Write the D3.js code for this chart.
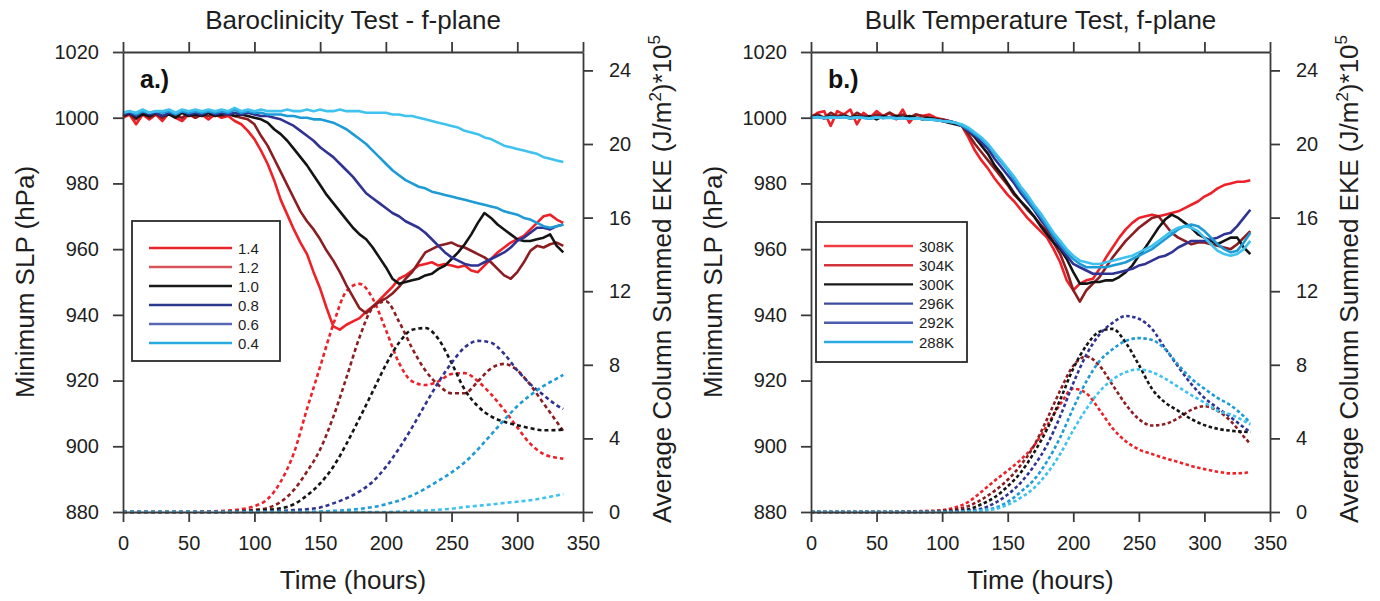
<!DOCTYPE html>
<html>
<head>
<meta charset="utf-8">
<script src="https://cdn.jsdelivr.net/npm/d3@7"></script>
<style>
html,body{margin:0;padding:0;background:#fff;}
svg{display:block;font-family:"Liberation Sans",Arial,Helvetica,sans-serif;}
</style>
</head>
<body>
<svg id="chart" width="1380" height="601"></svg>
<script>
// ---------------- DATA ----------------
const timeSolid = [0,5,10,15,20,25,30,35,40,45,50,55,60,65,70,75,80,85,90,95,100,105,110,115,120,125,130,135,140,145,150,155,160,165,170,175,180,185,190,195,200,205,210,215,220,225,230,235,240,245,250,255,260,265,270,275,280,285,290,295,300,305,310,315,320,325,330,335];
const timeDashed = [0,10,20,30,40,50,60,70,80,90,100,110,120,130,140,150,160,170,180,190,200,210,220,230,240,250,260,270,280,290,300,310,320,330,335];

// Panel a: Baroclinicity test, minimum SLP (hPa)
const slpA_14 = [1000,1001,998,1001,999.5,1001,999,1001.5,1000,999,1001,1000,1001,999.5,1001,1000,1000.5,999,998,996,993.5,990,986,981,975,970.5,966,962,958.5,953,948,942,936.5,935.5,937,938,939,941,942.5,944.5,946.5,948.5,951,952,953.5,955,955.5,956,955,955.5,955,954.5,955,953.5,953,955,957,959,960.5,962,963,964,966,968,970,970.5,969,968];
const slpA_12 = [1000.5,1001,999.5,1001.5,1000,1001,1000,1001.5,1000.5,1000,1001.5,1000,1001,1000.5,1001.5,1000.5,1001,1000.5,1000,999.5,998,994.5,991.5,987.5,983.5,979.5,975.5,971.5,968.5,966,963,959.5,956.5,953,949,945.5,942,940.5,942.5,944,945,946.5,948.5,951,953,956,959,960,961,961.5,962,961,960.5,959.5,958.5,957.5,956,954,952,951,953,956,959.5,961,960.5,961.5,962,961];
const slpA_10 = [1000.5,1001.5,1000,1001,1000.5,1001.5,1000.5,1001,1000,1001.5,1000.5,1001,1000.5,1001.5,1000.5,1001,1001.5,1000.5,1001,1000.5,1000,999.5,998.5,996.5,995,993,990.5,988,985.5,982.5,979.5,976.5,974,971.5,969,966.5,964.5,963,960.5,957.5,954.5,951,949.5,950,950.5,951,952,952.5,954,955,957,959,961.5,964.5,968,971,969.5,967.5,966,964.5,963,962.5,962.5,963,963.5,964.5,961,959];
const slpA_08 = [1001,1001.5,1000.5,1002,1001,1001.5,1000.5,1001.5,1001,1002,1001,1001.5,1001,1002,1001,1001.5,1001,1001.5,1001,1001.5,1001,1000.5,1000.5,1000,999.5,998.5,997.5,996,994.5,993,991,989.5,988,986,984,982,979.5,977,975.5,974,972.5,971,970,968.5,967.5,966.5,965,963,961,959,957.5,956.5,955.5,955,955,956,957,958,959,960.5,962.5,963.5,965,966.5,966.5,966,967,967.5];
const slpA_06 = [1001.5,1002,1001,1002,1001.5,1002,1001.5,1002,1001,1002,1001.5,1002,1001.5,1002,1001.5,1002,1001.5,1002.5,1001.5,1002,1001.5,1001.5,1001,1001,1001,1000.5,1000.5,1000,1000,999.5,999.5,999,998.5,997.5,996.5,995,993.5,992,990,988,986,984,982.5,981,980,979,978.5,977.5,977,976.5,976,975.5,975,974.5,974,973.5,973,972.5,971.5,971,970.5,969.5,969,968,967,966.5,967,967.5];
const slpA_04 = [1001.5,1002,1001.5,1002.5,1001.5,1002,1002,1002.5,1001.5,1002.5,1002,1002.5,1002,1002.5,1002,1002.5,1002,1003,1002,1002.5,1002,1002.5,1002,1002,1002,1002.5,1002,1002,1002.5,1002,1002.5,1002,1002,1002.5,1002,1002,1002,1001.5,1001.5,1001.5,1001.5,1001,1001,1000.5,1000.5,1000,999.5,999,998.5,998,997.5,997,996,995.5,995,994,993.5,992.5,991.5,991,990.5,990,989.5,989,988,987.5,987,986.5];

// Panel a: average column summed EKE (J/m^2 x 1e5)
const ekeA_14 = [0,0,0,0,0,0,0.02,0.04,0.08,0.15,0.32,0.7,1.65,3.2,5.6,7.9,10.2,12.0,12.4,11.6,9.9,8.1,7.1,6.9,7.1,7.5,7.55,7.1,6.4,5.55,4.6,3.7,3.15,2.95,2.9];
const ekeA_12 = [0,0,0,0,0,0,0,0,0.03,0.06,0.12,0.22,0.55,1.2,2.2,3.4,5.17,7.3,9.5,11.1,11.45,10.35,8.9,7.7,6.9,6.45,6.45,7.1,7.8,8.05,7.7,6.9,5.9,4.9,4.4];
const ekeA_10 = [0,0,0,0,0,0,0,0,0,0.03,0.07,0.12,0.2,0.42,0.9,1.55,2.46,3.7,5.1,6.55,8.0,9.2,9.9,10.0,9.4,8.1,6.65,5.75,5.2,4.9,4.72,4.55,4.44,4.45,4.5];
const ekeA_08 = [0,0,0,0,0,0,0,0,0,0,0,0.03,0.06,0.1,0.15,0.25,0.47,0.75,1.12,1.65,2.45,3.45,4.6,5.85,7.05,8.1,8.95,9.3,9.2,8.6,7.7,6.95,6.35,5.8,5.6];
const ekeA_06 = [0,0,0,0,0,0,0,0,0,0,0,0,0,0,0,0.03,0.06,0.1,0.17,0.27,0.42,0.63,0.9,1.27,1.7,2.15,2.7,3.4,4.2,5.0,5.75,6.35,6.85,7.25,7.45];
const ekeA_04 = [0,0,0,0,0,0,0,0,0,0,0,0,0,0,0,0,0,0,0,0,0,0.02,0.05,0.08,0.12,0.18,0.27,0.34,0.41,0.49,0.56,0.64,0.76,0.9,0.97];

// Panel b: Bulk temperature test, minimum SLP (hPa)
const slpB_308 = [1000,1001.5,1002,997.5,1002,1001,1002.5,998,1001.5,1000,1002,1000.5,1001.5,999.5,1002.5,998.5,1001,1000.5,1001,1000,999.5,999,998.5,997.5,994,990,987,984.5,981.5,979,976.5,974.5,972,969.5,967.5,965.5,963.5,960,956,950.5,947.5,949.5,950.5,951,954,957.5,960.5,963.5,966,968,969.5,970,970.5,970,970.5,971,971.5,972.5,973.5,974.5,976,977,978.5,979.5,980,980.5,980.5,981];
const slpB_304 = [1000.5,1001,1000,1001.5,1000.5,1001,1000,1001.5,1000.5,1000,1001,1000.5,1001.5,1000.5,1001,1000,1001,1000.5,1000,999.5,999.5,999,998.5,997.5,995,992,989.5,987,984.5,982,979.5,976.5,974.5,972,970,967.5,965.5,962,958.5,953.5,947.5,944,947.5,949.5,951.5,954.5,957.5,960,962.5,964.5,966.5,968,969.5,970,967.5,965,963.5,962.5,961.5,962,962,961.5,961,960.5,960,961.5,963.5,965.5];
const slpB_300 = [1000,1000.5,1000,1000.5,1000,1000.5,1000,1000.5,1000,1000.5,999.5,1000.5,1000,1000.5,1000,1000.5,1000,999.5,1000,999.5,999,998.5,998,997.5,996,994,991.5,989,985.5,983,980,977,974.5,972.5,970,967,964.5,962,960,957,953,949.5,949.5,950,950,950.5,950.5,951.5,953,955,958,960.5,963.5,966.5,969,970.5,969.5,968,966.5,964.5,963.5,962.5,961.5,962.5,963.5,963.5,960.5,958.5];
const slpB_296 = [1000,1000.3,999.8,1000.2,1000,1000.3,999.8,1000.2,1000,999.8,1000.2,999.9,1000.2,999.8,1000,999.7,999.9,999.6,999.5,999.3,999,999,998.5,997.5,996,994.5,992.5,990.5,987.5,985,982.5,980,977,974.5,972,969,966.5,963.5,960.5,958,955.5,954.5,953.5,952.5,952.5,952.5,952.5,953,953.5,954,955,955.5,956.5,957.5,958,959,960.5,961.5,962.5,962.5,962.5,963,963.5,964.5,965,967,969.5,972];
const slpB_292 = [1000,1000.2,999.9,1000.2,1000,1000.2,999.8,1000.1,1000,999.8,1000.1,999.9,1000.1,999.8,999.9,999.7,999.8,999.6,999.5,999.3,999,998.8,998.5,997.5,996.5,995,993.5,991.5,989,986.5,984,981,978,975.5,972.5,970,967,964,961.5,959,957,955.5,954.5,954.5,954.5,954.5,955,955.5,956,957,958,959,960,961.5,963,964.5,966,967,967.5,967,965.5,963.5,961.5,960,959,959.5,962,965];
const slpB_288 = [1000,1000.2,999.9,1000.1,1000,1000.2,999.9,1000.1,999.9,999.8,1000.1,999.9,1000,999.8,999.9,999.7,999.8,999.6,999.5,999.3,999,998.8,998.5,998,997,995.5,994,992,989.5,987,984.5,982,979,976.5,973.5,971,968,965,962.5,960,958,956.5,956,955.5,955.5,956,956.5,957,957.5,958,959,960,961,962.5,964,965.5,966.5,967,966.5,965.5,963.5,961.5,959.5,958.5,958,958.5,960,962.5];

// Panel b: average column summed EKE (J/m^2 x 1e5)
const ekeB_308 = [0,0,0,0,0,0,0,0.02,0.04,0.06,0.1,0.25,0.55,1.1,1.7,2.25,2.85,3.6,4.7,5.85,6.7,6.45,5.55,4.55,3.85,3.4,3.15,2.92,2.72,2.5,2.33,2.19,2.1,2.12,2.2];
const ekeB_304 = [0,0,0,0,0,0,0,0,0,0.03,0.07,0.15,0.32,0.68,1.15,1.75,2.55,3.6,5.05,6.6,7.95,8.45,7.95,6.9,5.85,5.05,4.7,4.78,5.1,5.55,5.75,5.5,4.95,4.1,3.7];
const ekeB_300 = [0,0,0,0,0,0,0,0,0,0,0.03,0.06,0.15,0.42,0.8,1.4,2.15,3.22,4.5,6.1,7.8,9.05,9.8,9.95,9.2,8.0,6.7,5.95,5.5,5.05,4.72,4.52,4.42,4.36,4.35];
const ekeB_296 = [0,0,0,0,0,0,0,0,0,0,0,0.03,0.08,0.18,0.48,0.95,1.6,2.5,3.65,5.2,7.0,8.55,9.65,10.28,10.65,10.5,9.95,8.9,7.9,6.95,6.2,5.65,5.15,4.6,4.35];
const ekeB_292 = [0,0,0,0,0,0,0,0,0,0,0,0,0.04,0.1,0.22,0.55,1.1,1.75,2.75,4.05,5.65,7.1,8.2,8.85,9.3,9.45,9.35,8.85,8.0,7.25,6.7,6.2,5.8,5.2,4.85];
const ekeB_288 = [0,0,0,0,0,0,0,0,0,0,0,0,0.03,0.07,0.15,0.4,0.78,1.3,2.1,3.15,4.45,5.6,6.55,7.2,7.6,7.75,7.6,7.25,6.8,6.35,5.95,5.5,5.3,4.95,4.75];

const labelsA = ["1.4","1.2","1.0","0.8","0.6","0.4"];
const labelsB = ["308K","304K","300K","296K","292K","288K"];
const lineColors = ["#ee2128","#8c1d20","#141414","#2f3393","#1d9bd7","#40c2ef"];
const legendColorsA = ["#e8262a","#d6555a","#1a1a1a","#2c3a8d","#5767b4","#28aae1"];
const legendColorsB = ["#ee3c42","#d2343b","#1a1a1a","#3c4b9c","#4b5daf","#2aaae1"];

const xTicks = [0,50,100,150,200,250,300,350];
const slpTicks = [880,900,920,940,960,980,1000,1020];
const ekeTicks = [0,4,8,12,16,20,24];

const titles = ["Baroclinicity Test - f-plane","Bulk Temperature Test, f-plane"];
const panelTags = ["a.)","b.)"];

// ---------------- DRAWING ----------------
const svg = d3.select("#chart");
const FONT = '"Liberation Sans",Arial,Helvetica,sans-serif';
const AX = "#3a3a3a";
const TXT = "#1e1e1e";

function panel(cfg){
  const {left,right,top,bottom} = cfg;
  const x = d3.scaleLinear().domain([0,350]).range([left,right]);
  const yL = d3.scaleLinear().domain([880,1020]).range([bottom,top]);
  const yR = d3.scaleLinear().domain([0,25]).range([bottom,top]);
  const g = svg.append("g");

  // dashed EKE lines
  const dl = d3.line().x((d,i)=>x(timeDashed[i])).y(d=>yR(d)).curve(d3.curveMonotoneX);
  cfg.eke.forEach((s,i)=>{
    g.append("path").attr("d",dl(s)).attr("fill","none")
      .attr("stroke",lineColors[i]).attr("stroke-width",2.6)
      .attr("stroke-dasharray",cfg.dash);
  });
  // solid SLP lines
  const sl = d3.line().x((d,i)=>x(timeSolid[i])).y(d=>yL(d));
  cfg.slp.forEach((s,i)=>{
    g.append("path").attr("d",sl(s)).attr("fill","none")
      .attr("stroke",lineColors[i]).attr("stroke-width",2.6)
      .attr("stroke-linejoin","round");
  });

  // axes
  const tick = 10;
  const gb = g.append("g").attr("transform",`translate(0,${bottom})`)
    .call(d3.axisBottom(x).tickValues(xTicks).tickSize(tick).tickSizeOuter(0).tickPadding(14).tickFormat(d3.format("d")));
  const gt = g.append("g").attr("transform",`translate(0,${top})`)
    .call(d3.axisTop(x).tickValues(xTicks).tickSize(tick).tickSizeOuter(0).tickFormat(""));
  const gl = g.append("g").attr("transform",`translate(${left},0)`)
    .call(d3.axisLeft(yL).tickValues(slpTicks).tickSize(tick).tickSizeOuter(0).tickPadding(14).tickFormat(d3.format("d")));
  const gr = g.append("g").attr("transform",`translate(${right},0)`)
    .call(d3.axisRight(yR).tickValues(ekeTicks).tickSize(tick).tickSizeOuter(0).tickPadding(16).tickFormat(d3.format("d")));
  [gb,gt,gl,gr].forEach(a=>{
    a.selectAll("path").attr("stroke",AX).attr("stroke-width",1.8);
    a.selectAll("line").attr("stroke",AX).attr("stroke-width",1.8);
    a.selectAll("text").attr("fill",TXT).style("font-family",FONT).style("font-size","20px");
  });

  // titles
  g.append("text").attr("x",(left+right)/2).attr("y",29).attr("text-anchor","middle")
    .style("font-family",FONT).style("font-size","26px").attr("fill",TXT).text(cfg.title);
  g.append("text").attr("x",(left+right)/2).attr("y",589).attr("text-anchor","middle")
    .style("font-family",FONT).style("font-size","26px").attr("fill",TXT).text("Time (hours)");
  g.append("text").attr("transform",`translate(${left-89},${(top+bottom)/2}) rotate(-90)`)
    .attr("text-anchor","middle").style("font-family",FONT).style("font-size","26px").attr("fill",TXT)
    .text("Minimum SLP (hPa)");
  const rt = g.append("text").attr("transform",`translate(${right+88},${(top+bottom)/2-3}) rotate(-90)`)
    .attr("text-anchor","middle").style("font-family",FONT).style("font-size","26px").attr("fill",TXT);
  rt.append("tspan").text("Average Column Summed EKE (J/m");
  rt.append("tspan").attr("dy",-10).style("font-size","17px").text("2");
  rt.append("tspan").attr("dy",10).text(")*10");
  rt.append("tspan").attr("dy",-11).style("font-size","17px").text("5");

  g.append("text").attr("x",left+17).attr("y",88)
    .style("font-family",FONT).style("font-size","25px").style("font-weight","bold").attr("fill","#111")
    .text(cfg.tag);

  // legend
  const L = cfg.legend;
  g.append("rect").attr("x",L.x).attr("y",L.y).attr("width",L.w).attr("height",L.h)
    .attr("fill","#fff").attr("stroke","#2a2a2a").attr("stroke-width",1.8);
  cfg.labels.forEach((lab,i)=>{
    const yy = L.y + L.first + i*L.step;
    g.append("line").attr("x1",L.lx1).attr("x2",L.lx2).attr("y1",yy).attr("y2",yy)
      .attr("stroke",cfg.legendColors[i]).attr("stroke-width",2.4);
    g.append("text").attr("x",L.tx).attr("y",yy+5.5)
      .style("font-family",FONT).style("font-size","15px").attr("fill",TXT).text(lab);
  });
}

panel({left:123,right:583,top:52,bottom:512,title:titles[0],tag:panelTags[0],dash:"4,3",
  slp:[slpA_14,slpA_12,slpA_10,slpA_08,slpA_06,slpA_04],
  eke:[ekeA_14,ekeA_12,ekeA_10,ekeA_08,ekeA_06,ekeA_04],
  labels:labelsA,legendColors:legendColorsA,
  legend:{x:132,y:221,w:148,h:140,first:27,step:19,lx1:149,lx2:232,tx:238}});
panel({left:811,right:1270,top:52,bottom:512,title:titles[1],tag:panelTags[1],dash:"3.5,2.5",
  slp:[slpB_308,slpB_304,slpB_300,slpB_296,slpB_292,slpB_288],
  eke:[ekeB_308,ekeB_304,ekeB_300,ekeB_296,ekeB_292,ekeB_288],
  labels:labelsB,legendColors:legendColorsB,
  legend:{x:816,y:222,w:151,h:140,first:24,step:19.2,lx1:824,lx2:913,tx:919}});
</script>
</body>
</html>
